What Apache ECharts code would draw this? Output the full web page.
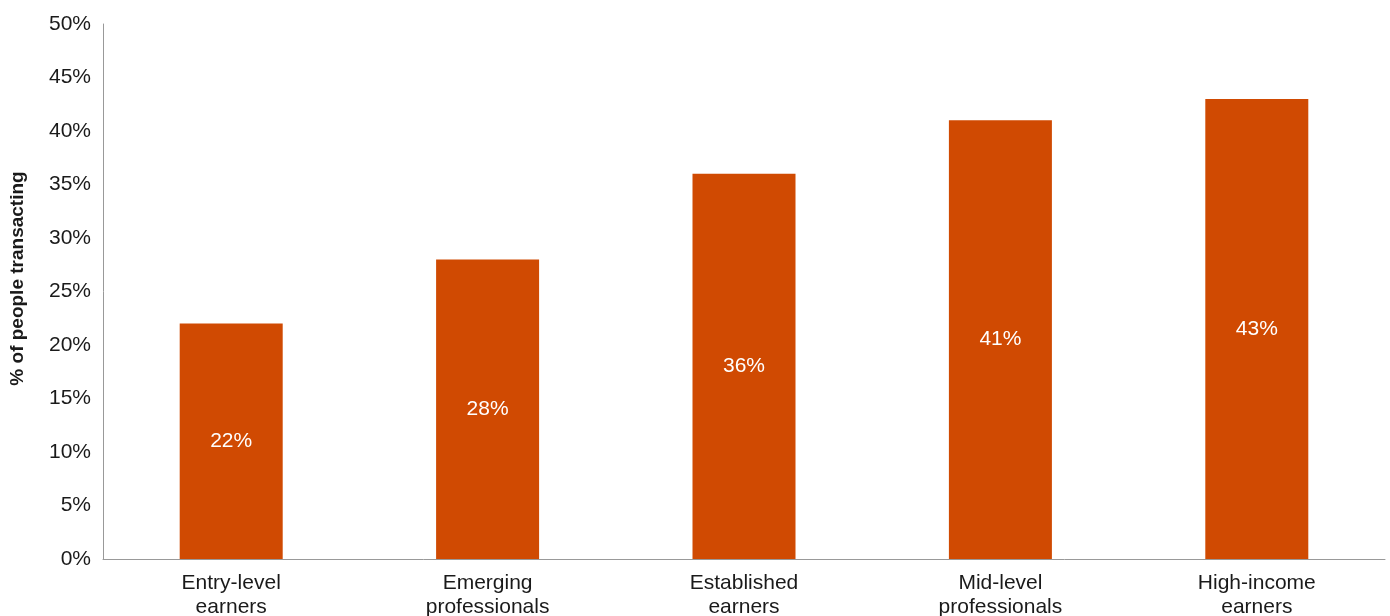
<!DOCTYPE html>
<html>
<head>
<meta charset="utf-8">
<style>html,body{margin:0;padding:0;background:#fff}#c{width:1390px;height:616px}</style>
<script src="https://cdn.jsdelivr.net/npm/echarts@6/dist/echarts.min.js"></script>
</head>
<body>
<div id="c"></div>
<script>
const categories = ["Entry-level\nearners", "Emerging\nprofessionals", "Established\nearners", "Mid-level\nprofessionals", "High-income\nearners"];
const values = [22, 28, 36, 41, 43];
const yAxisName = "% of people transacting";

const chart = echarts.init(document.getElementById('c'));
const font = "'Liberation Sans', Arial, Helvetica, sans-serif";
chart.setOption({
  animation: false,
  grid: {left: 103, right: 5, top: 24, bottom: 57, containLabel: false, outerBoundsMode: 'none'},
  xAxis: {
    type: 'category',
    data: categories,
    axisLine: {show: true, lineStyle: {color: '#999', width: 1}},
    axisTick: {show: false},
    axisLabel: {color: '#1a1a1a', fontSize: 21, fontFamily: font, lineHeight: 24, margin: 12}
  },
  yAxis: {
    type: 'value',
    min: 0, max: 50, interval: 5,
    name: yAxisName,
    nameLocation: 'middle',
    nameGap: 76,
    nameTextStyle: {color: '#1a1a1a', fontSize: 19, fontWeight: 'bold', fontFamily: font, padding: [0, 0, 0, 26]},
    axisLine: {show: true, lineStyle: {color: '#999', width: 1}},
    axisTick: {show: false},
    splitLine: {show: false},
    axisLabel: {color: '#1a1a1a', fontSize: 21, fontFamily: font, margin: 12, formatter: v => v + '%'}
  },
  series: [{
    type: 'bar',
    data: values,
    barWidth: 103,
    itemStyle: {color: '#D04A02'},
    label: {show: true, position: 'inside', color: '#fff', fontSize: 21, fontFamily: font, formatter: p => p.value + '%'}
  }]
});
</script>
</body>
</html>
